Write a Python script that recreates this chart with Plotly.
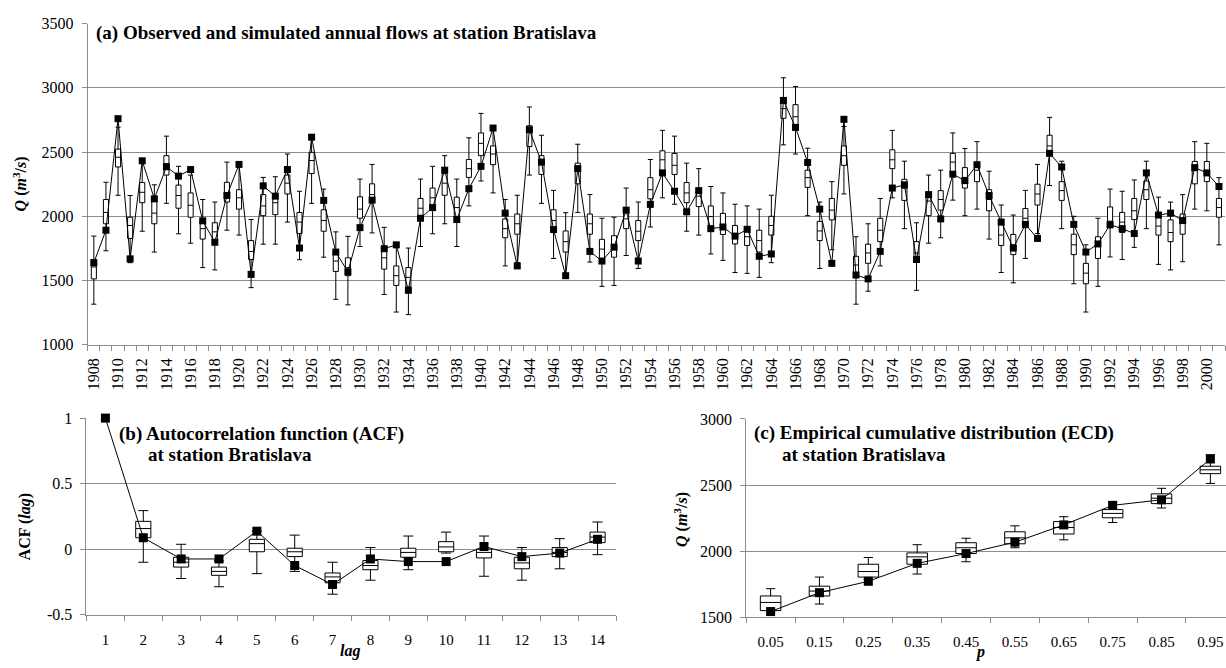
import plotly.graph_objects as go

# ---------------- data ----------------
years = list(range(1908, 2002))

# observed annual mean flow (m3/s)
obs_flow = [1639, 1892, 2760, 1669, 2432, 2136, 2386, 2313, 2364, 1965,
            1798, 2162, 2404, 1548, 2237, 2157, 2364, 1753, 2616, 2124,
            1722, 1568, 1912, 2126, 1748, 1778, 1424, 1985, 2068, 2359,
            1975, 2215, 2389, 2687, 2025, 1614, 2674, 2422, 1897, 1538,
            2371, 1727, 1652, 1760, 2048, 1652, 2093, 2338, 2195, 2035,
            2200, 1904, 1917, 1846, 1899, 1689, 1707, 2902, 2692, 2419,
            2056, 1634, 2755, 1543, 1513, 1727, 2220, 2245, 1664, 2169,
            1980, 2328, 2278, 2402, 2162, 1955, 1753, 1937, 1828, 2490,
            2384, 1937, 1722, 1785, 1934, 1904, 1866, 2338, 2010, 2025,
            1967, 2379, 2338, 2232]

# simulated ensemble statistics per year
sim_hi = [1846, 2265, 2694, 2162, 2420, 2245, 2624, 2389, 2321, 2131,
          2111, 2422, 2410, 1975, 2303, 2308, 2485, 2195, 2624, 2212,
          1879, 1844, 2290, 2404, 1914, 1765, 1753, 2290, 2389, 2472,
          2290, 2611, 2801, 2700, 2131, 2164, 2851, 2631, 2202, 2028,
          2561, 2169, 1985, 1993, 2220, 2111, 2442, 2669, 2624, 2414,
          2371, 2232, 2182, 2094, 2081, 2056, 2164, 3078, 3010, 2530,
          2111, 2270, 2700, 1841, 1942, 2139, 2669, 2429, 1950, 2321,
          2359, 2649, 2528, 2581, 2351, 2088, 2010, 2202, 2404, 2770,
          2429, 2000, 1778, 1985, 2212, 2195, 2283, 2429, 2149, 2111,
          2169, 2581, 2568, 2301]
sim_q3 = [1664, 2131, 2523, 1993, 2263, 2136, 2472, 2243, 2182, 1967,
          1950, 2265, 2207, 1811, 2169, 2169, 2321, 2030, 2498, 2051,
          1727, 1677, 2152, 2253, 1765, 1614, 1601, 2139, 2220, 2333,
          2149, 2442, 2649, 2548, 1980, 2018, 2705, 2472, 2051, 1886,
          2414, 2018, 1821, 1849, 2056, 1967, 2301, 2510, 2490, 2263,
          2212, 2081, 2023, 1929, 1917, 1892, 2000, 2894, 2869, 2359,
          1960, 2139, 2548, 1689, 1783, 1985, 2518, 2288, 1803, 2169,
          2200, 2490, 2379, 2414, 2207, 1937, 1859, 2061, 2250, 2631,
          2270, 1861, 1634, 1841, 2073, 2030, 2139, 2275, 2003, 1972,
          2018, 2427, 2427, 2139]
sim_med = [1606, 2030, 2460, 1929, 2187, 2025, 2409, 2162, 2086, 1904,
           1879, 2182, 2144, 1727, 2081, 2106, 2258, 1955, 2434, 1967,
           1652, 1601, 2056, 2169, 1677, 1538, 1525, 2063, 2144, 2258,
           2068, 2371, 2568, 2485, 1904, 1942, 2662, 2409, 1967, 1803,
           2364, 1942, 1745, 1765, 1980, 1884, 2207, 2440, 2397, 2182,
           2157, 1998, 1934, 1854, 1841, 1811, 1929, 2838, 2775, 2301,
           1886, 2048, 2472, 1621, 1715, 1892, 2440, 2220, 1715, 2119,
           2131, 2422, 2303, 2359, 2131, 1854, 1778, 1985, 2174, 2548,
           2200, 1778, 1558, 1765, 1962, 1955, 2043, 2207, 1924, 1874,
           1955, 2371, 2346, 2068]
sim_q1 = [1513, 1942, 2384, 1828, 2106, 1942, 2321, 2063, 1993, 1823,
          1803, 2111, 2056, 1664, 2005, 2013, 2174, 1866, 2333, 1884,
          1571, 1538, 1985, 2106, 1589, 1462, 1450, 1993, 2068, 2164,
          1993, 2303, 2472, 2402, 1833, 1861, 2543, 2326, 1892, 1722,
          2253, 1861, 1669, 1682, 1904, 1811, 2136, 2354, 2326, 2106,
          2076, 1924, 1859, 1785, 1773, 1722, 1854, 2763, 2700, 2225,
          1811, 1972, 2397, 1551, 1634, 1803, 2371, 2124, 1664, 2005,
          2048, 2346, 2220, 2270, 2043, 1773, 1702, 1912, 2088, 2490,
          2124, 1702, 1475, 1672, 1912, 1874, 1975, 2131, 1854, 1803,
          1861, 2253, 2270, 1993]
sim_lo = [1316, 1732, 2164, 1639, 1884, 1722, 2101, 1864, 1791, 1601,
          1583, 1892, 1854, 1445, 1783, 1783, 1955, 1662, 2101, 1682,
          1354, 1311, 1765, 1871, 1392, 1255, 1235, 1765, 1864, 1942,
          1765, 2081, 2275, 2182, 1614, 1640, 2321, 2101, 1672, 1538,
          2030, 1644, 1455, 1462, 1695, 1594, 1917, 2144, 2094, 1884,
          1854, 1707, 1657, 1563, 1556, 1525, 1639, 2556, 2485, 2005,
          1594, 1740, 2174, 1316, 1417, 1614, 2144, 1904, 1424, 1791,
          1833, 2126, 2005, 2056, 1823, 1563, 1482, 1672, 1866, 2240,
          1904, 1475, 1255, 1455, 1684, 1664, 1758, 1904, 1626, 1583,
          1647, 2056, 2043, 1778]

# autocorrelation function
lags = list(range(1, 15))
acf_obs = [1.0, 0.087, -0.075, -0.075, 0.137, -0.125, -0.27,
           -0.075, -0.095, -0.095, 0.02, -0.057, -0.03, 0.075]
acf_lags_sim = lags[1:]
acf_hi = [0.294, 0.037, -0.09, 0.137, 0.107, -0.1, 0.012, 0.1, 0.13, 0.1, 0.012, 0.08, 0.207]
acf_q3 = [0.212, -0.062, -0.137, 0.075, 0.007, -0.182, -0.087, 0.007, 0.057, 0.0, -0.062, 0.012, 0.13]
acf_med = [0.157, -0.1, -0.17, 0.042, -0.02, -0.212, -0.125, -0.025, 0.017, -0.025, -0.105, -0.025, 0.092]
acf_q1 = [0.087, -0.137, -0.2, -0.02, -0.057, -0.257, -0.157, -0.062, -0.02, -0.067, -0.15, -0.057, 0.05]
acf_lo = [-0.1, -0.224, -0.287, -0.187, -0.17, -0.344, -0.237, -0.157, -0.03, -0.207, -0.237, -0.15, -0.042]

# empirical cumulative distribution
p_vals = [0.05, 0.15, 0.25, 0.35, 0.45, 0.55, 0.65, 0.75, 0.85, 0.95]
p_labels = ["0.05", "0.15", "0.25", "0.35", "0.45", "0.55", "0.65", "0.75", "0.85", "0.95"]
ecd_obs = [1542, 1685, 1771, 1907, 1981, 2067, 2198, 2346, 2388, 2697]
ecd_hi = [1715, 1803, 1951, 2048, 2097, 2191, 2260, 2371, 2475, 2729]
ecd_q3 = [1660, 1734, 1900, 1986, 2063, 2146, 2223, 2314, 2433, 2642]
ecd_med = [1611, 1697, 1845, 1956, 2025, 2100, 2178, 2285, 2400, 2615]
ecd_q1 = [1549, 1660, 1803, 1900, 1981, 2055, 2129, 2252, 2359, 2586]
ecd_lo = [1537, 1599, 1784, 1826, 1919, 2025, 2085, 2216, 2326, 2512]

# ---------------- styling ----------------
W, H = 1226, 668
FONT = "Liberation Serif"
GRID = "#8c8c8c"


def px(x):
    return x / W


def py(y):
    return 1 - y / H


fig = go.Figure()


def add_panel(xa, ya, xs, lo, q1, med, q3, hi, xo, yo, bw, ww, msize):
    fig.add_trace(go.Box(
        x=xs, lowerfence=lo, q1=q1, median=med, q3=q3, upperfence=hi,
        width=bw, whiskerwidth=ww, fillcolor="white", boxpoints=False,
        line=dict(color="black", width=1), xaxis=xa, yaxis=ya,
        showlegend=False, hoverinfo="skip"))
    fig.add_trace(go.Scatter(
        x=xo, y=yo, mode="lines+markers", xaxis=xa, yaxis=ya,
        line=dict(color="black", width=1), cliponaxis=False,
        marker=dict(symbol="square", size=msize, color="black"),
        showlegend=False, hoverinfo="skip"))


# box widths are in data units of each x axis
add_panel("x", "y", years, sim_lo, sim_q1, sim_med, sim_q3, sim_hi,
          years, obs_flow, 0.42, 1.0, 7)
add_panel("x2", "y2", acf_lags_sim, acf_lo, acf_q1, acf_med, acf_q3, acf_hi,
          lags, acf_obs, 0.4, 0.67, 9)
add_panel("x3", "y3", p_vals, ecd_lo, ecd_q1, ecd_med, ecd_q3, ecd_hi,
          p_vals, ecd_obs, 0.042, 0.45, 9)

xcommon = dict(showline=True, linecolor=GRID, linewidth=1, showgrid=False,
               zeroline=False, ticks="outside", ticklen=5,
               tickcolor="rgba(0,0,0,0)", tickfont=dict(size=15, family=FONT))
ycommon = dict(showline=True, linecolor=GRID, linewidth=1, showgrid=True,
               gridcolor=GRID, gridwidth=1, zeroline=False, ticks="outside",
               ticklen=5, tickcolor=GRID, ticklabelstandoff=5,
               tickfont=dict(size=16, family=FONT))

fig.update_layout(
    width=W, height=H, margin=dict(l=0, r=0, t=0, b=0),
    paper_bgcolor="white", plot_bgcolor="white",
    font=dict(family=FONT, color="black"),
    showlegend=False,
    xaxis=dict(xcommon, domain=[px(85), px(1225)], range=[1907.5, 2001.5],
               anchor="y", tickmode="array", tickvals=years[::2],
               ticktext=[str(v) for v in years[::2]], tickangle=-90,
               ticklabelstandoff=1, tickfont=dict(size=16, family=FONT),
               minor=dict(tickmode="array",
                          tickvals=[v - 0.5 for v in years] + [years[-1] + 0.5],
                          ticks="outside", ticklen=5, tickcolor=GRID,
                          showgrid=False)),
    yaxis=dict(ycommon, domain=[py(345.6), py(16)], range=[1000, 3500],
               anchor="x", tickmode="linear", tick0=1000, dtick=500),
    xaxis2=dict(xcommon, domain=[px(83.7), px(615)], range=[0.5, 14.5],
                anchor="y2", tickmode="array", tickvals=lags,
                ticktext=[str(v) for v in lags], ticklabelstandoff=6,
                minor=dict(tickmode="array",
                           tickvals=[v - 0.5 for v in lags] + [lags[-1] + 0.5],
                           ticks="outside", ticklen=5, tickcolor=GRID,
                           showgrid=False)),
    yaxis2=dict(ycommon, domain=[py(622.5), py(420.8)], range=[-0.5, 1],
                anchor="x2", tickmode="array", tickvals=[-0.5, 0, 0.5, 1],
                ticktext=["-0.5", "0", "0.5", "1"]),
    xaxis3=dict(xcommon, domain=[px(745), 1.0], range=[0.0, 0.982],
                anchor="y3", tickmode="array", tickvals=p_vals,
                ticktext=p_labels, ticklabelstandoff=6,
                minor=dict(tickmode="array",
                           tickvals=[round(v - 0.05, 2) for v in p_vals],
                           ticks="outside", ticklen=5, tickcolor=GRID,
                           showgrid=False)),
    yaxis3=dict(ycommon, domain=[py(625), py(421.7)], range=[1500, 3000],
                anchor="x3", tickmode="linear", tick0=1500, dtick=500),
)


def note(text, x, y, size, xanchor="left", angle=0):
    fig.add_annotation(text=text, x=px(x), y=py(y), xref="paper", yref="paper",
                       xanchor=xanchor, yanchor="middle", showarrow=False,
                       textangle=angle, borderpad=0,
                       font=dict(size=size, family=FONT, color="black"))


# panel titles
note("<b>(a) Observed and simulated annual flows at station Bratislava</b>", 92, 26, 19)
note("<b>(b) Autocorrelation function (ACF)</b>", 115, 437, 19)
note("<b>at station Bratislava</b>", 144, 458, 19)
note("<b>(c) Empirical cumulative distribution (ECD)</b>", 752, 436, 19)
note("<b>at station Bratislava</b>", 780, 458, 19)

# axis titles
qtitle = "<b><i>Q</i> (<i>m</i><sup>3</sup>/<i>s</i>)</b>"
note(qtitle, 17, 180, 16, xanchor="center", angle=-90)
note("<b>ACF (<i>lag</i>)</b>", 23, 532, 16, xanchor="center", angle=-90)
note(qtitle, 680, 525, 16, xanchor="center", angle=-90)
note("<b><i>lag</i></b>", 348, 660, 16, xanchor="center")
note("<b><i>p</i></b>", 979, 661, 16, xanchor="center")

fig.write_html("out.html")
